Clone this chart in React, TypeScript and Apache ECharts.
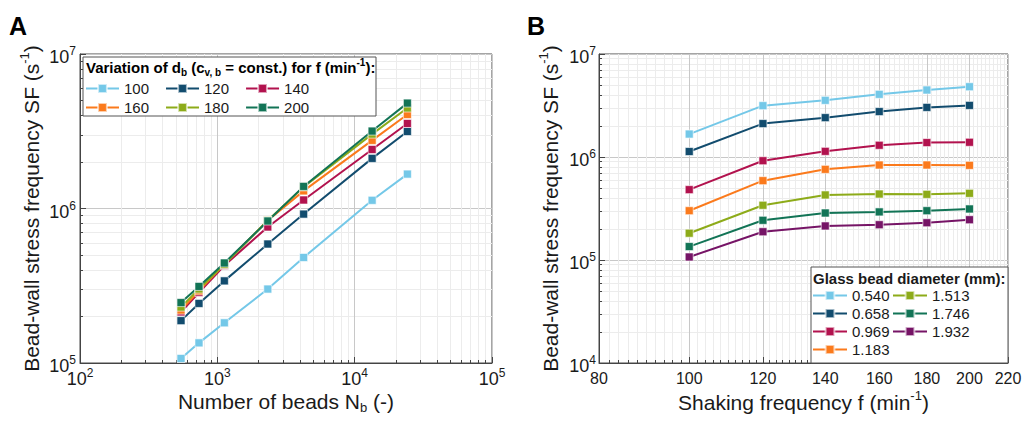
import React, { useEffect, useRef } from "react";
import * as echarts from "echarts";

const FONT = '"Liberation Sans", Arial, Helvetica, sans-serif';
const TXT = "#1a1a1a";

// Glass bead diameters (mm) and corresponding number of beads N_b
const diameters = ["0.540", "0.658", "0.969", "1.183", "1.513", "1.746", "1.932"];
const beadCounts = [24200, 13400, 4250, 2330, 1125, 735, 544];
// Shaking frequencies (min^-1)
const frequencies = [100, 120, 140, 160, 180, 200];

// Bead-wall stress frequency SF (s^-1) per diameter, one value per frequency
const sf0540 = [1.67e6, 3.15e6, 3.55e6, 4.06e6, 4.47e6, 4.81e6];
const sf0658 = [1.13e6, 2.11e6, 2.41e6, 2.76e6, 3.03e6, 3.17e6];
const sf0969 = [4.82e5, 9.2e5, 1.135e6, 1.3e6, 1.38e6, 1.39e6];
const sf1183 = [3.01e5, 5.89e5, 7.59e5, 8.36e5, 8.36e5, 8.3e5];
const sf1513 = [1.82e5, 3.4e5, 4.28e5, 4.37e5, 4.34e5, 4.44e5];
const sf1746 = [1.35e5, 2.43e5, 2.86e5, 2.93e5, 3.01e5, 3.13e5];
const sf1932 = [1.07e5, 1.88e5, 2.14e5, 2.2e5, 2.3e5, 2.46e5];
const sfByDiameter = [sf0540, sf0658, sf0969, sf1183, sf1513, sf1746, sf1932];

const colors = ["#74c8e8", "#124c6e", "#b2124e", "#fb7a1c", "#8dab19", "#127456", "#761466"];

// Axis tick values
const xTicksA = [100, 1000, 10000, 100000];
const yTicksA = [1e5, 1e6, 1e7];
const xTicksB = [80, 100, 120, 140, 160, 180, 200, 220];
const yTicksB = [1e4, 1e5, 1e6, 1e7];

function logMinor(lo: number, hi: number) {
  const out: number[] = [];
  for (let d = lo; d < hi; d *= 10) for (let k = 2; k <= 9; k++) out.push(d * k);
  return out;
}
function linMinor(lo: number, hi: number, step: number, major: number) {
  const out: number[] = [];
  for (let v = lo + step; v < hi; v += step) if (v % major !== 0) out.push(v);
  return out;
}

const supRich = (F: number, S: number, bold = false) => {
  const P = Math.max(0, Math.round(S / 2 - 0.15 * F));
  const w = bold ? "bold" : "normal";
  return {
    b: { fontSize: F, lineHeight: F, verticalAlign: "top", padding: [P, 0, 0, 0], fontFamily: FONT, color: TXT, fontWeight: w },
    s: { fontSize: S, lineHeight: S, verticalAlign: "top", fontFamily: FONT, color: TXT, fontWeight: w },
    u: { fontSize: S, lineHeight: S, verticalAlign: "top", padding: [Math.round(P + F / 2 + 0.3 * F - S / 2), 0, 0, 0], fontFamily: FONT, color: TXT, fontWeight: w },
  };
};

const powLabel = (v: number) => `{b|10}{s|${Math.round(Math.log10(v))}}`;

export default function App() {
  const ref = useRef<HTMLDivElement>(null);
  useEffect(() => {
    if (!ref.current) return;
    const chart = echarts.init(ref.current, null, { renderer: "svg" });

    const minorX = (gridIndex: number, min: number, max: number, vals: number[]) => ({
      gridIndex, type: "log", min, max, position: "bottom",
      axisLine: { show: false },
      axisLabel: { show: false },
      axisTick: { show: true, inside: true, length: 3, customValues: vals, lineStyle: { color: "#444" } },
      splitLine: { show: true, lineStyle: { color: "#ececec", width: 1 } },
    });
    const minorY = (gridIndex: number, min: number, max: number, vals: number[]) => ({
      gridIndex, type: "log", min, max, position: "left",
      axisLine: { show: false },
      axisLabel: { show: false },
      axisTick: { show: true, inside: true, length: 3, customValues: vals, lineStyle: { color: "#444" } },
      splitLine: { show: true, lineStyle: { color: "#ececec", width: 1 } },
    });

    const yName = "{b|Bead-wall stress frequency SF (s}{s|-1}{b|)}";

    const seriesA = frequencies.map((f, j) => ({
      name: String(f),
      type: "line",
      xAxisIndex: 1,
      yAxisIndex: 1,
      data: beadCounts.map((n, i) => [n, sfByDiameter[i][j]]),
      symbol: "rect",
      symbolSize: 8,
      lineStyle: { width: 2, color: colors[j] },
      itemStyle: { color: colors[j], borderColor: "rgba(255,255,255,0.6)", borderWidth: 1 },
    }));
    const seriesB = diameters.map((d, i) => ({
      name: d,
      type: "line",
      xAxisIndex: 3,
      yAxisIndex: 3,
      data: frequencies.map((f, j) => [f, sfByDiameter[i][j]]),
      symbol: "rect",
      symbolSize: 8,
      lineStyle: { width: 2, color: colors[i] },
      itemStyle: { color: colors[i], borderColor: "rgba(255,255,255,0.6)", borderWidth: 1 },
    }));

    const legendBase = {
      padding: 0,
      itemWidth: 34,
      itemHeight: 11,
      textStyle: { fontSize: 15, fontFamily: FONT, color: TXT },
      selectedMode: false,
      z: 5,
    };

    const option: any = {
      animation: false,
      backgroundColor: "#ffffff",
      textStyle: { fontFamily: FONT },
      grid: [
        { left: 80, top: 54, width: 412, height: 309, show: true, borderColor: "#4a4a4a", borderWidth: 1, backgroundColor: "transparent", outerBoundsMode: "none" },
        { left: 599, top: 54, width: 409, height: 309, show: true, borderColor: "#4a4a4a", borderWidth: 1, backgroundColor: "transparent", outerBoundsMode: "none" },
      ],
      xAxis: [
        minorX(0, 100, 1e5, logMinor(100, 1e5)),
        {
          gridIndex: 0, type: "log", min: 100, max: 1e5, position: "bottom",
          axisLine: { show: true, lineStyle: { color: "#444", width: 1 } },
          axisTick: { show: true, inside: true, length: 6, customValues: xTicksA, lineStyle: { color: "#444" } },
          axisLabel: { customValues: xTicksA, margin: 4, formatter: powLabel, rich: supRich(18, 12) },
          splitLine: { show: true, lineStyle: { color: "#c8c8c8", width: 1 } },
          name: "{b|Number of beads N}{u|b}{b| (-)}",
          nameLocation: "middle", nameGap: 25, nameMoveOverlap: false,
          nameTextStyle: { rich: supRich(21, 13) },
        },
        minorX(1, 80, 220, linMinor(80, 220, 2, 20)),
        {
          gridIndex: 1, type: "log", min: 80, max: 220, position: "bottom",
          axisLine: { show: true, lineStyle: { color: "#444", width: 1 } },
          axisTick: { show: true, inside: true, length: 6, customValues: xTicksB, lineStyle: { color: "#444" } },
          axisLabel: { customValues: xTicksB, margin: 7, fontSize: 16, color: TXT, fontFamily: FONT, formatter: (v: number) => String(Math.round(v)) },
          splitLine: { show: true, lineStyle: { color: "#c8c8c8", width: 1 } },
          name: "{b|Shaking frequency f (min}{s|-1}{b|)}",
          nameLocation: "middle", nameGap: 26, nameMoveOverlap: false,
          nameTextStyle: { rich: supRich(21, 13) },
        },
      ],
      yAxis: [
        minorY(0, 1e5, 1e7, logMinor(1e5, 1e7)),
        {
          gridIndex: 0, type: "log", min: 1e5, max: 1e7, position: "left",
          axisLine: { show: true, lineStyle: { color: "#444", width: 1 } },
          axisTick: { show: true, inside: true, length: 6, customValues: yTicksA, lineStyle: { color: "#444" } },
          axisLabel: { customValues: yTicksA, margin: 4, formatter: powLabel, rich: supRich(18, 12) },
          splitLine: { show: true, lineStyle: { color: "#c8c8c8", width: 1 } },
          name: yName, nameLocation: "middle", nameRotate: 90, nameGap: 41, nameMoveOverlap: false,
          nameTextStyle: { rich: supRich(21, 13) },
        },
        minorY(1, 1e4, 1e7, logMinor(1e4, 1e7)),
        {
          gridIndex: 1, type: "log", min: 1e4, max: 1e7, position: "left",
          axisLine: { show: true, lineStyle: { color: "#444", width: 1 } },
          axisTick: { show: true, inside: true, length: 6, customValues: yTicksB, lineStyle: { color: "#444" } },
          axisLabel: { customValues: yTicksB, margin: 3, formatter: powLabel, rich: supRich(18, 12) },
          splitLine: { show: true, lineStyle: { color: "#c8c8c8", width: 1 } },
          name: yName, nameLocation: "middle", nameRotate: 90, nameGap: 41, nameMoveOverlap: false,
          nameTextStyle: { rich: supRich(21, 13) },
        },
      ],
      legend: [
        { ...legendBase, data: ["100", "120", "140"], orient: "horizontal", left: 85, top: 81, itemGap: 16, itemWidth: 33 },
        { ...legendBase, data: ["160", "180", "200"], orient: "horizontal", left: 85, top: 100, itemGap: 16, itemWidth: 33 },
        { ...legendBase, data: diameters.slice(0, 4), orient: "vertical", left: 812, top: 288, itemGap: 3 },
        { ...legendBase, data: diameters.slice(4), orient: "vertical", left: 892, top: 288, itemGap: 3 },
      ],
      graphic: [
        { type: "rect", z: 3, shape: { x: 83, y: 57, width: 293, height: 59 }, style: { fill: "#fff", stroke: "#555", lineWidth: 1 } },
        { type: "rect", z: 3, shape: { x: 811, y: 267, width: 197, height: 96 }, style: { fill: "#fff", stroke: "#555", lineWidth: 1 } },
        {
          type: "text", z: 6, x: 86, y: 57,
          style: {
            text: "{b|Variation of d}{u|b}{b| (c}{u|v, b}{b| = const.) for f (min}{s|-1}{b|):}",
            rich: supRich(15, 10, true),
            verticalAlign: "top",
          },
        },
        {
          type: "text", z: 6, x: 813, y: 278,
          style: { text: "Glass bead diameter (mm):", font: `bold 15px ${FONT}`, fill: TXT, verticalAlign: "middle" },
        },
        { type: "text", z: 6, x: 9, y: 26, style: { text: "A", font: `bold 25px ${FONT}`, fill: "#000", verticalAlign: "middle" } },
        { type: "text", z: 6, x: 527, y: 26, style: { text: "B", font: `bold 25px ${FONT}`, fill: "#000", verticalAlign: "middle" } },
      ],
      series: [...seriesA, ...seriesB],
    };

    chart.setOption(option);
    return () => chart.dispose();
  }, []);

  return (
    <div
      ref={ref}
      style={{ position: "fixed", left: 0, top: 0, width: 1023, height: 421, background: "#fff" }}
    />
  );
}
